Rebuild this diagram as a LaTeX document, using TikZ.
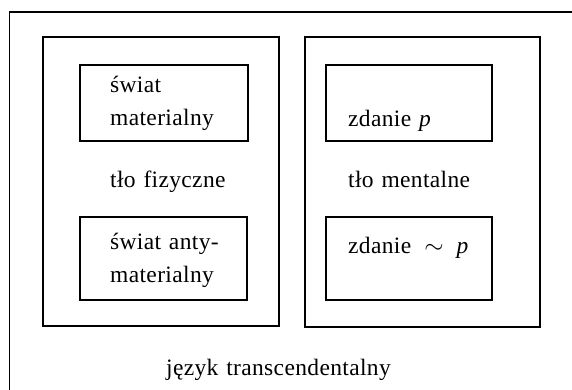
\documentclass[tikz,border=0pt]{standalone}
\usepackage{fontspec}
\setmainfont{Liberation Serif}[LetterSpace=1.5,WordSpace=1.25]
\begin{document}
\begin{tikzpicture}[x=1pt,y=-1pt,
  frame/.style={draw,line width=1.4pt,inner sep=0pt},
  txt/.style={inner sep=0pt,anchor=base west,font=\fontsize{23.5}{33}\selectfont},
  mtxt/.style={inner sep=0pt,anchor=west,align=left,font=\fontsize{23.5}{33}\selectfont}]
\useasboundingbox (0,0) rectangle (572,390);
\coordinate (o0) at (9.5,12);
\coordinate (o1) at (572,12);
\coordinate (o2) at (9.5,390);
\draw[line width=1.4pt] (o1) -- (o0) -- (o2);
\node[frame,minimum width=236pt,minimum height=289pt] (L) at (161,181.5) {};
\node[frame,minimum width=235pt,minimum height=290pt] (R) at (422.5,182) {};
\node[frame,minimum width=168pt,minimum height=76pt] (LT) at (164,103) {};
\node[frame,minimum width=167pt,minimum height=83pt] (LB) at (163.5,258.5) {};
\node[frame,minimum width=166pt,minimum height=76pt] (RT) at (409,103) {};
\node[frame,minimum width=166pt,minimum height=83pt] (RB) at (409,258.5) {};
\node[mtxt] (t1) at (110,103) {świat\\materialny};
\node[txt] (t2) at (110,187) {tło fizyczne};
\node[mtxt] (t3) at (110,260) {świat anty-\\materialny};
\node[txt] (t4) at (348,127) {zdanie \textit{p}};
\node[txt] (t5) at (348,187) {tło mentalne};
\node[txt] (t6) at (348,253) {zdanie\hspace{13pt}$\sim$\hspace{13pt}\textit{p}};
\node[txt] (t7) at (166,375) {język transcendentalny};
\end{tikzpicture}
\end{document}
